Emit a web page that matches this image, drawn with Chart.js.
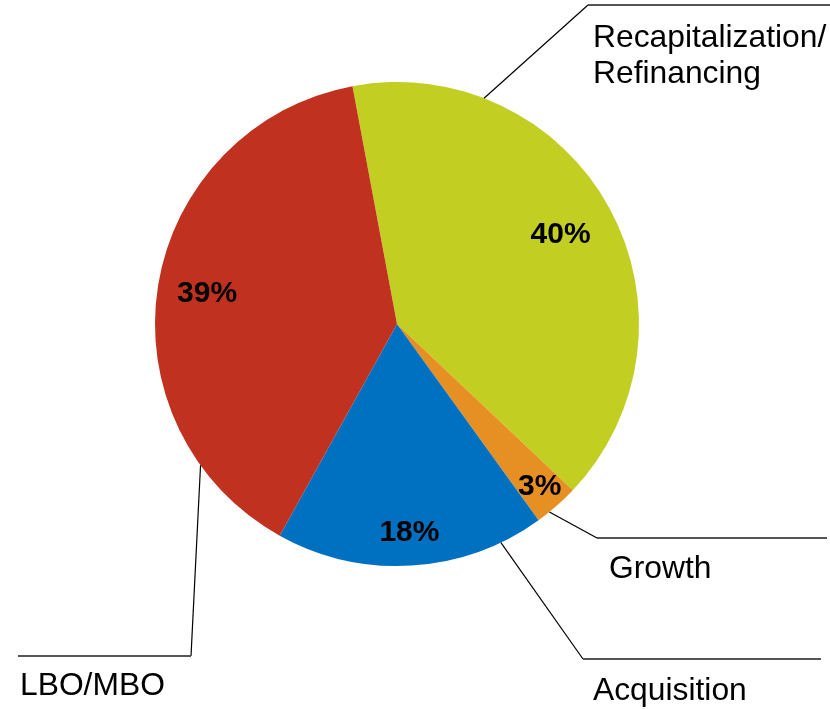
<!DOCTYPE html>
<html lang="en">
<head>
<meta charset="UTF-8" />
<title>Deal purpose</title>
<script src="https://cdn.jsdelivr.net/npm/chart.js@4.4.0/dist/chart.umd.min.js"></script>
<style>
  html, body { margin: 0; padding: 0; background: #fff; }
  #wrap { width: 830px; height: 709px; }
</style>
</head>
<body>
<div id="wrap"><canvas id="myChart" width="830" height="709"></canvas></div>
<script>
// data
const labels = [['Recapitalization/', 'Refinancing'], ['Growth'], ['Acquisition'], ['LBO/MBO']];
const shares = [40, 3, 18, 39];
const colours = ['#C3CE23', '#E68F22', '#0070C0', '#C0321F'];

// label placement (style only)
const pctDepth = [0.77, 0.895, 0.865, 0.795];   // radial position of the % text
const leaderFrom = [0.22, 0.70, 0.16, 0.18];    // where on the slice's rim the leader starts
const callouts = [
  { elbow: [588, 5],   end: [830, 5],   text: [593, 47] },
  { elbow: [597, 538], end: [827, 538], text: [609, 578] },
  { elbow: [583, 659], end: [821, 659], text: [593, 700] },
  { elbow: [191, 656], end: [18, 656],  text: [20, 695] }
];

const pieLabels = {
  id: 'pieLabels',
  afterDatasetsDraw(chart) {
    const ctx = chart.ctx;
    const arcs = chart.getDatasetMeta(0).data;
    ctx.save();
    arcs.forEach((arc, i) => {
      const p = arc.getProps(['x', 'y', 'startAngle', 'endAngle', 'outerRadius'], true);
      // percentage inside the slice
      const mid = (p.startAngle + p.endAngle) / 2;
      const r = p.outerRadius * pctDepth[i];
      ctx.fillStyle = '#000';
      ctx.font = 'bold 30px "Liberation Sans", Arial, sans-serif';
      ctx.textAlign = 'center';
      ctx.textBaseline = 'middle';
      ctx.fillText(shares[i] + '%', p.x + Math.cos(mid) * r, p.y + Math.sin(mid) * r);

      // leader line
      const c = callouts[i];
      const a = p.startAngle + (p.endAngle - p.startAngle) * leaderFrom[i];
      const sx = p.x + Math.cos(a) * p.outerRadius;
      const sy = p.y + Math.sin(a) * p.outerRadius;
      ctx.strokeStyle = '#000';
      ctx.lineWidth = 1.2;
      ctx.beginPath();
      ctx.moveTo(sx, sy);
      ctx.lineTo(c.elbow[0], c.elbow[1]);
      ctx.stroke();
      ctx.strokeStyle = '#555';
      ctx.lineWidth = 2;
      ctx.beginPath();
      ctx.moveTo(c.elbow[0], c.elbow[1]);
      ctx.lineTo(c.end[0], c.end[1]);
      ctx.stroke();

      // category name
      ctx.font = '31.8px "Liberation Sans", Arial, sans-serif';
      ctx.textAlign = 'left';
      ctx.textBaseline = 'alphabetic';
      labels[i].forEach((line, k) => {
        ctx.fillText(line, c.text[0], c.text[1] + k * 36);
      });
    });
    ctx.restore();
  }
};

new Chart(document.getElementById('myChart').getContext('2d'), {
  type: 'pie',
  data: {
    labels: labels.map(l => l.join(' ')),
    datasets: [{
      data: shares,
      backgroundColor: colours,
      borderWidth: 0,
      hoverOffset: 0
    }]
  },
  options: {
    responsive: false,
    animation: false,
    rotation: -10.6,
    layout: { padding: { left: 155, right: 191, top: 82, bottom: 143 } },
    plugins: {
      legend: { display: false },
      tooltip: { enabled: false }
    }
  },
  plugins: [pieLabels]
});
</script>
</body>
</html>
